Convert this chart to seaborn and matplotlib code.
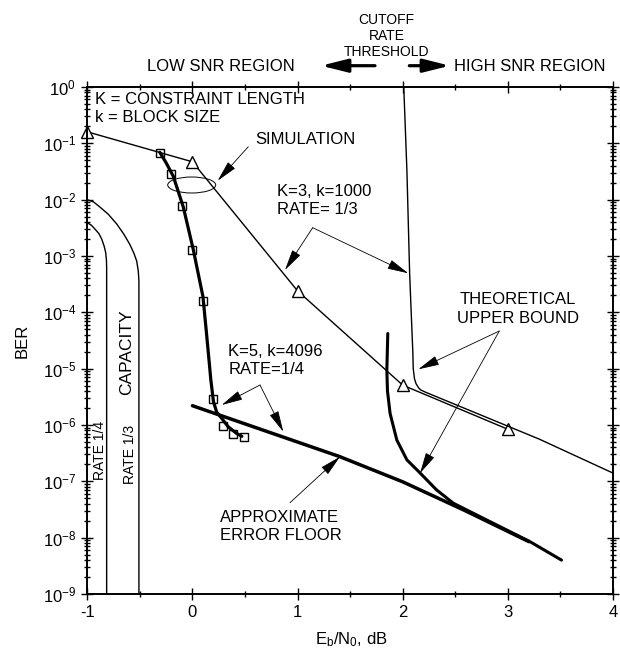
import numpy as np
import pandas as pd
import matplotlib
matplotlib.use("Agg")
import matplotlib.pyplot as plt
from matplotlib.ticker import MultipleLocator, FixedLocator, NullFormatter, FuncFormatter
from matplotlib.patches import Ellipse, FancyArrowPatch
import seaborn as sns

# capacity limits (rate 1/3 and rate 1/4)
cap13_ebn0 = [-1.0, -0.94, -0.88, -0.80, -0.72, -0.65, -0.595, -0.555, -0.53, -0.515, -0.509, -0.509]
cap13_ber = [1.0e-2, 9.1e-3, 7.4e-3, 5.5e-3, 3.7e-3, 2.4e-3, 1.6e-3, 1.1e-3, 8.1e-4, 5.4e-4, 3.6e-4, 1e-9]
cap14_ebn0 = [-1.0, -0.96, -0.927, -0.89, -0.863, -0.84, -0.825, -0.818, -0.816, -0.816]
cap14_ber = [3.9e-3, 3.5e-3, 3.0e-3, 2.5e-3, 2.0e-3, 1.5e-3, 1.15e-3, 8.5e-4, 6.3e-4, 1e-9]

# K=3, k=1000, rate 1/3: simulation (triangles) and theoretical upper bound
k3_sim_ebn0 = [-1.0, 0.0, 1.0, 2.0, 3.0]
k3_sim_ber = [0.16, 0.047, 2.4e-4, 5.1e-6, 8.4e-7]
k3_bound_ebn0 = [2.01, 2.04, 2.066, 2.085, 2.096, 2.10, 2.112, 2.127, 2.15, 2.17, 2.22, 3.3, 4.0]
k3_bound_ber = [1.0, 3.2e-2, 4.8e-4, 6.3e-5, 2.0e-5, 1.0e-5, 6.6e-6, 5.4e-6, 4.6e-6, 4.2e-6, 3.8e-6, 5.6e-7, 1.4e-7]

# K=5, k=4096, rate 1/4: simulation curve + squares, error floor, upper bound
k5_sim_ebn0 = [-0.31, -0.25, -0.182, -0.087, 0.008, 0.10, 0.13, 0.155, 0.175, 0.20, 0.23, 0.28, 0.34, 0.42, 0.47]
k5_sim_ber = [6.9e-2, 4.5e-2, 2.6e-2, 7.4e-3, 1.3e-3, 1.9e-4, 5.0e-5, 1.6e-5, 6.3e-6, 2.6e-6, 1.7e-6, 1.3e-6, 9.3e-7, 7.1e-7, 6.3e-7]
k5_pts_ebn0 = [-0.31, -0.205, -0.10, 0.0, 0.10, 0.20, 0.29, 0.39, 0.49]
k5_pts_ber = [6.8e-2, 2.9e-2, 7.8e-3, 1.3e-3, 1.6e-4, 2.9e-6, 9.7e-7, 6.8e-7, 6.2e-7]
floor_ebn0 = [0.0, 1.4, 2.0, 2.58, 3.2]
floor_ber = [2.2e-6, 2.75e-7, 9.8e-8, 3.1e-8, 8.5e-9]
k5_bound_ebn0 = [1.858, 1.849, 1.855, 1.88, 1.944, 2.04, 2.166, 2.32, 2.48, 2.64, 3.21, 3.51]
k5_bound_ber = [4.2e-5, 9.5e-6, 4.0e-6, 1.6e-6, 5.4e-7, 2.4e-7, 1.4e-7, 7.1e-8, 4.1e-8, 2.9e-8, 8.5e-9, 4.0e-9]

# axis decades shown
decades = list(range(-9, 1))

sns.set_style("ticks")
plt.rcParams["font.family"] = ["Liberation Sans", "DejaVu Sans"]
plt.rcParams["mathtext.fontset"] = "custom"
plt.rcParams["mathtext.rm"] = "Liberation Sans"
plt.rcParams["mathtext.it"] = "Liberation Sans:italic"
plt.rcParams["mathtext.default"] = "regular"
plt.rcParams["axes.unicode_minus"] = False
plt.rcParams["text.color"] = "black"
plt.rcParams["axes.labelcolor"] = "black"

W, H = 620, 656
fig = plt.figure(figsize=(W / 100, H / 100), dpi=100)
ax = fig.add_axes([87.3 / W, 1 - 594 / H, 525.7 / W, 507 / H])
ax.set_yscale("log")


def draw(x, y, lw, **kw):
    df = pd.DataFrame({"ebn0": x, "ber": y})
    sns.lineplot(data=df, x="ebn0", y="ber", sort=False, estimator=None,
                 color="black", linewidth=lw, ax=ax, **kw)


def P(x, y):
    # image pixel (top-left origin) -> figure pixels
    return (x, H - y)


draw(cap13_ebn0, cap13_ber, 1.0)
draw(cap14_ebn0, cap14_ber, 1.0)
draw(k3_sim_ebn0, k3_sim_ber, 1.0, marker="^", markersize=8.5,
     markerfacecolor="white", markeredgecolor="black", markeredgewidth=1.0, clip_on=False)
draw(k3_bound_ebn0, k3_bound_ber, 1.0)
draw(k5_sim_ebn0, k5_sim_ber, 2.3)
draw(k5_pts_ebn0, k5_pts_ber, 0, linestyle="", marker="s", markersize=6,
     markerfacecolor="none", markeredgecolor="black", markeredgewidth=1.0)
draw(floor_ebn0, floor_ber, 2.5)
draw(k5_bound_ebn0, k5_bound_ber, 2.2)

ax.set_xlim(-1, 4)
ax.set_ylim(1e-9, 1)
ax.xaxis.set_major_locator(MultipleLocator(1))
ax.xaxis.set_minor_locator(MultipleLocator(0.5))
ax.yaxis.set_major_locator(FixedLocator([10.0 ** d for d in decades]))
ax.yaxis.set_minor_locator(FixedLocator([m * 10.0 ** d for d in decades[:-1] for m in range(2, 10)]))
ax.yaxis.set_minor_formatter(NullFormatter())
ax.yaxis.set_major_formatter(FuncFormatter(lambda v, p: r"$10^{%d}$" % round(np.log10(v))))
ax.tick_params(which="both", direction="inout", top=True, right=True, width=1.0,
               labelsize=12, colors="black")
ax.tick_params(which="major", length=8, pad=4)
ax.tick_params(which="minor", length=4)
for s in ax.spines.values():
    s.set_linewidth(1.4)
    s.set_color("black")

ax.set_xlabel("E$_b$/N$_0$, dB", fontsize=12)
ax.set_ylabel("BER", fontsize=12)
ax.xaxis.label.set_verticalalignment("center")
ax.yaxis.label.set_verticalalignment("center")
ax.xaxis.set_label_coords((351 - 87.3) / 525.7, (594 - 640) / 507)
ax.yaxis.set_label_coords((21.7 - 87.3) / 525.7, 0.5)

# text inside the plot
ax.text(95, H - 100, "K = CONSTRAINT LENGTH", transform=None, fontsize=12, va="center")
ax.text(95, H - 118, "k = BLOCK SIZE", transform=None, fontsize=12, va="center")
ax.text(255, H - 140, "SIMULATION", transform=None, fontsize=12, va="center")
ax.text(276.7, H - 191, "K=3, k=1000", transform=None, fontsize=12, va="center")
ax.text(276.7, H - 210, "RATE= 1/3", transform=None, fontsize=12, va="center")
ax.text(228.3, H - 352, "K=5, k=4096", transform=None, fontsize=12, va="center")
ax.text(228.3, H - 370, "RATE=1/4", transform=None, fontsize=12, va="center")
ax.text(518, H - 300, "THEORETICAL", transform=None, fontsize=12, va="center", ha="center")
ax.text(518, H - 318.5, "UPPER BOUND", transform=None, fontsize=12, va="center", ha="center")
ax.text(220, H - 517, "APPROXIMATE", transform=None, fontsize=12, va="center")
ax.text(220, H - 535, "ERROR FLOOR", transform=None, fontsize=12, va="center")
ax.text(126.5, H - 352, "CAPACITY", transform=None, fontsize=12.5, va="center", ha="center", rotation=90)
ax.text(99.5, H - 450, "RATE 1/4", transform=None, fontsize=10, va="center", ha="center", rotation=90)
ax.text(130.5, H - 454, "RATE 1/3", transform=None, fontsize=10, va="center", ha="center", rotation=90)

ax.add_patch(Ellipse(((191.7 - 87.3) / 525.7, (594 - 185) / 507), 48 / 525.7, 16 / 507,
                     transform=ax.transAxes, fill=False, lw=0.7, color="black"))

thin = dict(arrowstyle="-|>,head_length=1.1,head_width=0.25", color="black", lw=0.6,
            shrinkA=0, shrinkB=0, mutation_scale=12)


def pointer(tail, tip):
    ax.annotate("", xy=P(*tip), xytext=P(*tail), xycoords="figure pixels",
                textcoords="figure pixels", arrowprops=thin)


pointer((248.3, 146.7), (217.7, 180.7))
pointer((312.7, 227.7), (285, 270))
pointer((312.7, 227.7), (408.3, 273.3))
pointer((260, 385), (221.7, 405))
pointer((260, 385), (283.3, 431.7))
pointer((499.3, 331), (418.3, 369.3))
pointer((499.3, 331), (420, 473.3))
pointer((290, 502.7), (340, 456.7))

# header above the plot
fig.text(221 / W, 1 - 66.7 / H, "LOW SNR REGION", fontsize=12, ha="center", va="center")
fig.text(454 / W, 1 - 66.7 / H, "HIGH SNR REGION", fontsize=12, ha="left", va="center")
for label, yy in [("CUTOFF", 20), ("RATE", 36), ("THRESHOLD", 51.7)]:
    fig.text(386.7 / W, 1 - yy / H, label, fontsize=10, ha="center", va="center")
bold = dict(arrowstyle="-|>,head_length=1.6,head_width=0.4", color="black", lw=2.3,
            shrinkA=0, shrinkB=0, mutation_scale=10)
fig.add_artist(FancyArrowPatch(P(375, 65.7), P(321, 65.7), transform=None, **bold))
fig.add_artist(FancyArrowPatch(P(409.3, 65.7), P(450, 65.7), transform=None, **bold))

fig.savefig("out.png", dpi=100)
